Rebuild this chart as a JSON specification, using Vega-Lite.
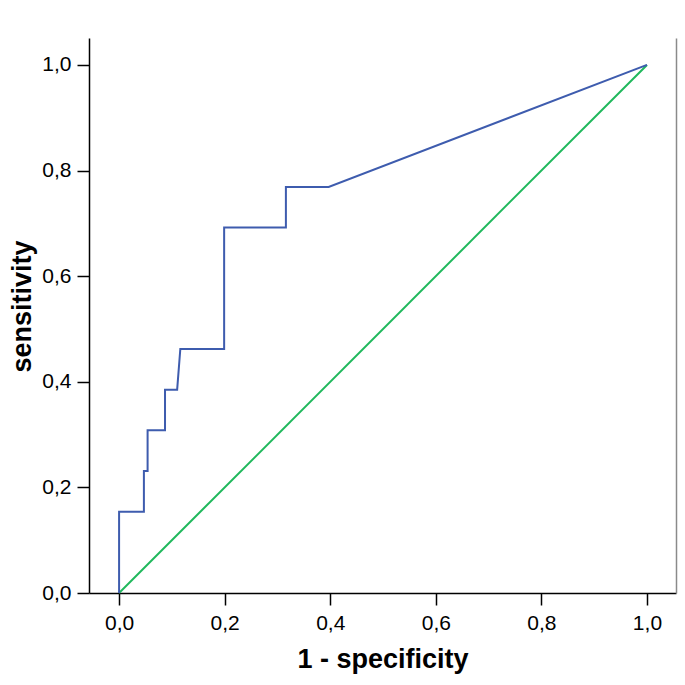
{
  "$schema": "https://vega.github.io/schema/vega-lite/v6.json",
  "width": 587,
  "height": 555,
  "autosize": "none",
  "padding": {"left": 89, "top": 38, "right": 9, "bottom": 92},
  "background": "white",
  "config": {
    "view": {"stroke": null},
    "font": "Liberation Sans",
    "axis": {
      "labelFont": "Liberation Sans",
      "titleFont": "Liberation Sans",
      "labelFontSize": 21,
      "titleFontSize": 27,
      "titleFontWeight": "bold",
      "labelColor": "#000",
      "titleColor": "#000",
      "domainColor": "#000",
      "domainWidth": 1.5,
      "tickColor": "#000",
      "tickWidth": 1.5,
      "tickSize": 12,
      "grid": false
    }
  },
  "datasets": {
    "roc": [
      {"i": 0, "fpr": 0.0, "tpr": 0.0},
      {"i": 1, "fpr": 0.0, "tpr": 0.154},
      {"i": 2, "fpr": 0.047, "tpr": 0.154},
      {"i": 3, "fpr": 0.047, "tpr": 0.231},
      {"i": 4, "fpr": 0.054, "tpr": 0.231},
      {"i": 5, "fpr": 0.054, "tpr": 0.308},
      {"i": 6, "fpr": 0.087, "tpr": 0.308},
      {"i": 7, "fpr": 0.087, "tpr": 0.385},
      {"i": 8, "fpr": 0.11, "tpr": 0.385},
      {"i": 9, "fpr": 0.116, "tpr": 0.462},
      {"i": 10, "fpr": 0.199, "tpr": 0.462},
      {"i": 11, "fpr": 0.199, "tpr": 0.692},
      {"i": 12, "fpr": 0.316, "tpr": 0.692},
      {"i": 13, "fpr": 0.316, "tpr": 0.769},
      {"i": 14, "fpr": 0.397, "tpr": 0.769},
      {"i": 15, "fpr": 1.0, "tpr": 1.0}
    ],
    "ref": [
      {"i": 0, "fpr": 0.0, "tpr": 0.0},
      {"i": 1, "fpr": 1.0, "tpr": 1.0}
    ]
  },
  "resolve": {"axis": {"y": "independent", "x": "independent"}},
  "layer": [
    {
      "data": {"name": "ref"},
      "mark": {"type": "line", "color": "#1fb85c", "strokeWidth": 2},
      "encoding": {
        "x": {"field": "fpr", "type": "quantitative", "scale": {"domain": [-0.057, 1.055], "nice": false, "zero": false},
          "axis": {"title": "1 - specificity", "values": [0, 0.2, 0.4, 0.6, 0.8, 1.0], "labelExpr": "replace(format(datum.value, '.1f'), '.', ',')", "labelPadding": 7, "titlePadding": 13}},
        "y": {"field": "tpr", "type": "quantitative", "scale": {"domain": [0, 1.051], "nice": false, "zero": false},
          "axis": {"title": "sensitivity", "titleY": 268, "values": [0, 0.2, 0.4, 0.6, 0.8, 1.0], "labelExpr": "replace(format(datum.value, '.1f'), '.', ',')", "labelPadding": 6, "titlePadding": 5}},
        "order": {"field": "i"}
      }
    },
    {
      "data": {"name": "roc"},
      "mark": {"type": "line", "color": "#3e5cae", "strokeWidth": 2},
      "encoding": {
        "x": {"field": "fpr", "type": "quantitative", "scale": {"domain": [-0.057, 1.055], "nice": false, "zero": false},
          "axis": {"orient": "top", "labels": false, "ticks": false, "title": null, "domain": false}},
        "y": {"field": "tpr", "type": "quantitative", "scale": {"domain": [0, 1.051], "nice": false, "zero": false},
          "axis": {"orient": "right", "labels": false, "ticks": false, "title": null, "domainColor": "#8a8a8a", "domainWidth": 1.5}},
        "order": {"field": "i"}
      }
    }
  ]
}
